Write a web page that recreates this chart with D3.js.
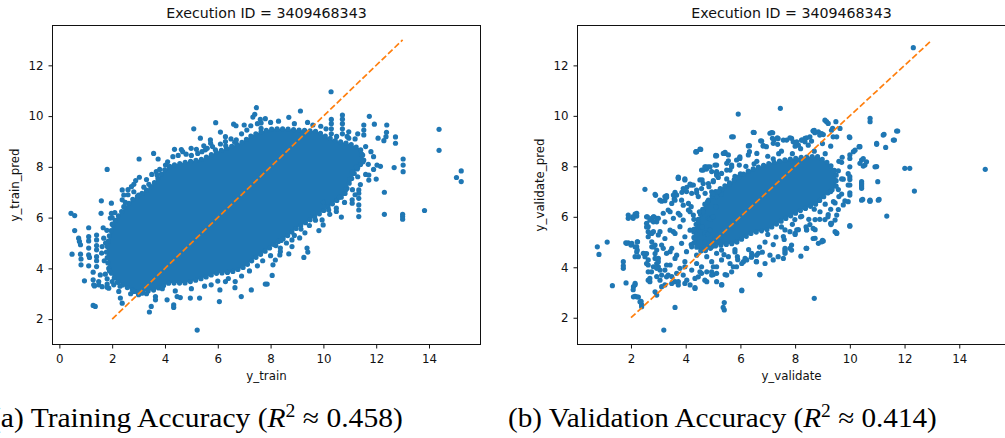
<!DOCTYPE html>
<html>
<head>
<meta charset="utf-8">
<script src="https://cdn.jsdelivr.net/npm/d3@7"></script>
<style>
  body { margin: 0; background: #fff; }
  svg  { display: block; }
  text { font-family: "DejaVu Sans", sans-serif; }
</style>
</head>
<body>
<svg id="chart" width="1005" height="438"></svg>
<script>
// ---- data ----
var titleText   = "Execution ID = 3409468343";
var trainXTicks = [0, 2, 4, 6, 8, 10, 12, 14];
var validXTicks = [2, 4, 6, 8, 10, 12, 14];
var yTicks      = [2, 4, 6, 8, 10, 12];
var trainXLim   = [-0.26, 15.95];
var trainYLim   = [1.0, 13.57];
var validXLim   = [0.045, 15.69];
var validYLim   = [0.94, 13.58];
var refLine     = [[2, 2], [13, 13]];

// saturated part of the training cloud (outline of the solid blue area)
var trainCore = [[1.87,4.0],[1.78,4.66],[1.9,5.32],[2.12,5.9],[2.4,6.3],[2.75,6.7],[3.2,7.0],[3.5,7.25],[3.7,7.5],
  [4.0,7.9],[4.4,8.1],[4.9,8.2],[5.4,8.3],[6.0,8.6],[6.5,8.8],[6.9,8.95],[7.3,9.25],[7.7,9.4],[8.1,9.5],[8.5,9.5],
  [9.1,9.45],[9.75,9.4],[10.1,9.2],[10.4,9.05],[11.0,8.9],[11.4,8.7],[11.55,8.3],[11.2,7.8],[10.95,7.3],[10.8,6.9],
  [10.35,6.55],[9.85,6.15],[9.4,5.85],[9.0,5.6],[8.6,5.25],[8.2,5.0],[7.9,4.75],[7.4,4.4],[7.0,4.05],[6.5,3.85],
  [5.9,3.8],[5.4,3.6],[4.75,3.42],[4.15,3.42],[3.6,3.15],[3.0,3.05],[2.45,3.3],[2.12,3.55]];

var trainPoints = [
  [1.81,7.9],[3.02,8.31],[3.57,8.53],[3.74,8.31],[5.09,9.5],[5.92,9.74],[6.1,9.37],[6.6,9.68],[6.69,9.62],[7.0,9.65],
  [7.25,9.62],[7.46,10.33],[7.33,9.96],[7.4,10.07],[7.61,9.87],[7.64,9.73],[7.64,9.52],[5.34,9.13],[5.72,9.06],[5.73,8.93],
  [6.29,9.19],[6.29,9.0],[6.3,8.83],[6.64,8.97],[6.7,9.06],[4.36,8.69],[4.62,8.68],[4.67,8.6],[4.99,8.73],[5.19,8.69],
  [5.24,8.53],[5.53,8.67],[5.6,8.73],[5.91,8.67],[5.47,8.83],[4.02,8.07],[4.18,8.02],[3.67,7.81],[3.7,7.68],[2.89,7.46],
  [3.03,7.59],[2.82,7.31],[3.39,7.31],[3.8,7.9],[4.1,8.2],[4.3,8.4],[4.5,8.45],[4.8,8.5],[5.0,8.45],[5.4,8.6],
  [5.8,8.8],[6.1,8.9],[6.5,9.1],[6.9,9.3],[7.1,9.45],[7.5,9.7],[7.8,9.9],[3.3,7.5],[3.5,7.7],[2.6,7.1],
  [10.29,10.96],[9.13,10.2],[8.69,9.95],[10.3,9.87],[10.3,9.7],[10.3,9.5],[10.3,9.3],[10.72,10.04],[10.72,9.88],[10.72,9.7],
  [10.72,9.5],[10.72,9.3],[11.74,9.99],[11.93,9.68],[12.4,9.65],[12.39,9.36],[12.37,9.19],[12.73,9.18],[12.73,8.93],[12.29,9.03],
  [12.07,9.13],[14.38,9.48],[14.38,8.65],[13.02,8.31],[13.02,8.07],[13.02,7.81],[12.68,7.97],[12.16,8.02],[12.03,8.07],[11.72,7.68],
  [11.72,7.48],[12.0,7.52],[11.3,7.97],[11.3,7.61],[15.22,7.84],[15.04,7.58],[15.22,7.42],[11.53,9.65],[11.53,9.45],[11.53,9.26],
  [10.96,9.38],[10.96,9.13],[8.3,9.8],[8.0,9.75],[8.9,9.7],[9.4,9.75],[9.6,9.65],[9.9,9.6],[10.1,9.5],[10.5,9.2],
  [10.9,9.2],[11.2,9.1],[11.3,9.3],[11.6,8.8],[11.8,8.6],[11.9,8.4],[11.5,8.2],[11.7,8.1],[11.9,7.9],[11.1,7.8],
  [11.0,7.5],[11.4,7.3],[11.6,7.7],[11.45,8.5],[11.25,8.0],[10.85,7.1],
  [11.34,7.09],[11.34,6.96],[11.34,6.76],[11.34,6.5],[11.34,6.3],[11.34,6.04],[12.31,7.0],[12.31,6.13],[13.0,6.13],[13.0,6.04],
  [13.0,5.94],[13.83,6.28],[11.09,6.7],[11.09,6.57],[10.68,6.02],[10.49,6.37],[10.49,6.24],[10.24,6.13],[9.83,5.49],[9.47,5.69],
  [9.95,5.91],[9.99,5.71],[9.38,4.8],[9.41,4.64],[9.26,4.43],[8.69,4.57],[8.37,4.8],[8.37,4.66],[8.35,4.53],[8.18,4.33],
  [8.09,4.14],[8.06,3.72],[8.81,5.12],[8.81,4.86],[7.87,3.38],[10.8,6.6],[10.6,6.8],[10.2,6.3],[9.7,5.9],[9.3,5.4],
  [9.1,5.2],[8.9,5.3],[8.6,5.0],[8.4,5.1],[8.2,4.9],[9.6,6.2],[10.0,6.6],[11.1,7.1],[11.2,6.9],[9.15,5.55],
  [0.44,6.17],[0.58,6.08],[0.58,5.49],[0.73,5.19],[0.76,5.06],[0.8,4.93],[0.48,4.56],[0.8,4.56],[0.82,4.37],[0.82,4.14],
  [0.95,3.51],[1.11,5.6],[1.11,5.25],[1.11,5.08],[1.11,4.8],[1.11,4.53],[1.14,4.43],[1.11,4.1],[1.28,3.85],[1.28,3.55],
  [1.3,3.35],[1.33,3.31],[1.28,2.54],[1.36,2.5],[1.41,5.31],[1.41,5.12],[1.41,4.9],[1.41,4.73],[1.41,4.46],[1.41,4.3],
  [1.41,4.07],[1.59,6.66],[1.58,6.17],[1.66,5.6],[1.68,5.19],[1.62,4.86],[1.55,3.74],[1.49,3.48],[1.49,3.35],[1.62,3.28],
  [1.74,3.77],[1.81,3.59],[1.81,3.38],[1.87,3.22],[1.97,6.57],[1.97,6.17],[1.93,5.98],[2.0,5.74],[2.38,7.09],[2.44,6.89],
  [2.38,6.7],[2.44,6.43],[2.73,7.22],[2.82,7.02],[3.0,6.89],[2.0,3.48],[2.06,3.35],[2.25,3.09],[2.31,2.83],[2.38,2.63],
  [1.81,3.26],[2.82,3.09],[3.0,2.96],[3.13,3.02],[3.41,2.28],[3.48,2.5],[3.64,2.89],[3.64,2.76],[4.08,2.76],[4.33,2.56],
  [4.33,2.46],[4.46,2.89],[4.58,2.85],[4.39,3.11],[4.96,2.83],[5.31,2.83],[5.22,1.57],[5.75,3.35],[6.06,2.69],[6.08,3.15],
  [6.29,3.48],[6.66,3.48],[6.65,3.24],[6.89,2.89],[7.27,3.15],[7.8,3.38],[5.0,3.2],[5.5,3.3],[6.0,3.5],[6.4,3.6],
  [6.9,3.7],[7.2,3.9],[7.5,4.1],[7.7,4.3],[8.0,4.5],[3.3,3.0],[3.9,3.2],[2.7,3.0],[2.3,3.3],[1.9,3.9],
  [1.7,4.3],[1.6,4.6],[1.8,5.5],[2.1,6.2],[2.5,6.6],[2.6,6.9],[3.2,7.2],[1.75,5.0],[2.0,6.0],[2.2,3.45]
];

// densest part of the validation cloud
var validCore = [[4.3,5.5],[4.7,6.5],[5.1,7.0],[5.75,7.45],[6.35,7.85],[7.0,8.1],[7.6,8.25],[8.2,8.35],[8.8,8.4],
  [9.25,8.1],[9.5,7.75],[9.5,7.2],[9.2,6.95],[8.75,6.5],[8.2,6.25],[7.6,5.9],[7.0,5.5],[6.4,5.35],[5.8,4.95],
  [5.1,4.85],[4.6,4.6],[4.3,4.9]];

var validPoints = [
  [0.77,4.81],[0.83,4.51],[1.13,5.0],[1.32,3.27],[1.72,4.22],[1.72,4.06],[1.72,3.96],[1.82,3.38],[1.81,4.97],[1.9,4.97],
  [2.0,4.88],[1.9,6.07],[1.9,5.94],[2.15,6.11],[2.21,6.03],[2.08,5.94],[2.15,3.31],[2.08,3.11],[2.15,2.85],[2.27,2.82],
  [2.37,2.65],[2.39,2.52],[2.24,5.01],[2.21,4.81],[2.21,4.61],[2.27,4.42],[2.51,7.09],[2.6,6.0],[2.57,5.74],[2.63,5.61],
  [2.63,5.41],[2.49,4.54],[2.51,4.42],[2.57,4.54],[2.63,4.29],[2.63,4.09],[2.63,3.82],[2.63,3.49],[2.82,6.0],[3.0,5.94],
  [2.9,6.85],[2.76,5.34],[2.76,5.01],[2.82,4.81],[2.88,4.54],[2.88,4.35],[2.94,4.15],[3.0,4.02],[3.06,3.89],[3.12,3.69],
  [3.06,3.49],[2.94,2.9],[3.2,1.51],[3.61,2.41],[3.3,6.84],[3.24,6.64],[3.58,6.71],[3.73,7.57],[3.97,7.5],[4.04,7.17],
  [4.16,7.3],[3.86,6.97],[3.61,6.97],[4.37,8.57],[4.55,8.67],[5.92,10.07],[7.46,10.3],[5.74,9.17],[6.5,9.34],[7.08,9.31],
  [7.14,9.34],[7.38,9.1],[7.57,9.04],[6.74,9.01],[6.83,8.81],[6.95,8.78],[7.17,9.11],[7.36,8.87],[6.29,8.81],[6.33,8.58],
  [6.6,8.51],[5.44,8.55],[5.56,8.22],[5.68,8.05],[5.62,7.85],[5.96,8.31],[5.96,8.05],[5.1,8.43],[5.07,8.05],[5.13,7.79],
  [4.95,7.79],[4.76,7.89],[4.64,7.85],[4.6,7.46],[4.64,7.32],[4.85,7.19],[5.01,7.43],[5.37,2.41],[5.41,2.6],[6.05,3.07],
  [6.71,3.7],[6.9,4.15],[6.58,4.22],[5.32,3.31],[5.01,3.71],[5.44,3.71],[5.68,3.82],[5.86,4.02],[6.05,4.15],[6.17,4.35],
  [6.41,4.55],[6.65,4.55],[7.63,4.68],[7.57,5.22],[7.63,5.48],[8.0,5.34],[3.97,4.02],[4.04,3.49],[4.34,3.16],[4.7,3.49],
  [4.95,3.82],[4.46,3.62],[3.61,3.43],[3.67,3.76],[3.49,3.36],[3.3,3.62],
  [3.73,7.52],[3.97,7.46],[4.22,7.26],[4.40,7.06],[4.58,7.12],[4.83,7.32],[5.01,7.39],[5.19,7.56],[5.31,7.72],[5.5,7.85],
  [5.68,7.98],[5.86,8.25],[5.98,8.38],[3.06,6.66],[3.24,6.8],[3.49,6.53],[3.61,6.86],[3.85,6.66],[4.10,6.53],[4.22,6.93],
  [4.46,6.8],[4.71,6.93],[4.95,6.99],[5.13,6.8],[5.31,7.06],[2.57,6.0],[2.76,5.94],[2.94,5.8],[3.18,6.14],[3.36,6.27],
  [3.55,5.94],[3.73,6.14],[3.91,5.87],[4.10,6.27],[4.28,6.07],[4.46,5.8],[4.64,6.2],[4.83,5.94],[2.63,5.21],[2.82,5.41],
  [3.0,5.28],[3.24,5.14],[3.43,5.47],[3.61,5.34],[3.79,5.61],[3.97,5.21],[4.16,5.47],[4.34,5.14],[4.52,5.61],[4.71,5.34],
  [4.89,5.47],[5.07,5.14],[2.45,4.55],[2.76,4.81],[2.94,4.68],[3.12,4.88],[3.30,4.55],[3.49,4.75],[3.67,4.48],[3.85,4.95],
  [4.03,4.62],[4.22,4.81],[4.40,4.48],[4.58,4.68],[4.77,4.42],[4.95,4.81],[5.13,4.55],[5.31,4.68],[2.57,4.15],[2.82,4.02],
  [3.0,4.22],[3.24,3.89],[3.43,4.09],[3.61,4.35],[3.79,3.96],[3.97,4.22],[4.22,3.89],[4.40,4.15],[4.58,4.02],[4.77,3.82],
  [4.95,4.22],[5.13,4.02],[5.31,4.29],[5.56,4.42],[2.69,3.43],[2.94,3.63],[3.24,3.3],[3.49,3.63],[3.73,3.43],[3.91,3.69],
  [4.16,3.3],[4.34,3.56],[4.58,3.76],[4.77,3.43],[5.13,3.43],
  [12.32,12.7],[10.74,9.9],[10.74,9.77],[11.75,9.4],[11.25,9.27],[11.63,9.04],[10.98,8.87],[11.31,8.75],[10.0,9.14],[10.35,8.78],
  [10.19,8.64],[10.92,7.98],[12.01,7.92],[12.19,7.92],[14.95,7.88],[12.36,7.02],[11.02,7.39],[10.43,7.39],[10.43,7.26],[10.43,7.13],
  [10.47,6.69],[10.73,6.63],[11.07,6.69],[11.35,6.03],[10.0,5.63],[10.43,8.25],[10.49,8.01],[10.61,8.18],[10.0,7.98],[9.94,7.71],
  [10.0,7.48],[9.94,7.26],[10.0,6.95],[9.72,8.36],[9.7,8.16],[9.58,7.82],[9.76,7.49],[9.7,6.9],[9.82,6.63],[9.52,5.36],
  [9.3,5.74],[9.0,5.07],[8.85,4.95],[8.73,5.15],[8.42,4.75],[8.21,4.44],[8.73,5.49],[9.15,9.77],[9.09,9.83],[8.7,9.43],
  [8.85,9.37],[8.97,9.3],[9.33,9.43],[9.52,9.17],[9.39,9.17],[8.54,9.17],[8.36,8.97],[8.24,9.04],[8.48,8.84],[9.58,7.08],
  [9.46,6.55],[9.58,6.29],[9.21,6.09],[9.31,5.69],[9.09,5.89],[8.91,6.2],[8.73,5.89],[8.54,5.69],[8.42,5.49],[8.12,5.49],
  [8.24,6.02],[7.99,5.89],
  [11.22,9.24],[11.71,9.4],[11.59,9.04],[10.74,6.66],[11.04,6.66],[10.43,7.19],[10.37,8.12],[10.98,7.99],[9.94,6.6],[10.34,8.78],
  [10.0,8.45],[9.98,9.17],[9.64,9.5],[9.49,9.77],[9.21,9.7],[8.7,2.77],[9.52,5.34],[9.46,5.87],[8.97,5.01],[8.4,4.75],
  [7.87,4.88],[7.87,4.68],[7.63,4.75],[7.63,4.55],[7.38,4.42],[7.2,4.29],[6.59,4.22],[6.41,4.42],[6.23,4.29],[5.89,4.42],
  [5.74,4.02],[5.62,4.15],[5.8,4.61],[5.5,3.69],[5.41,2.31],[5.13,3.76],[5.01,4.02],[2.33,2.63],[2.39,2.44],[2.21,2.83],
  [2.09,2.83],[2.09,3.23],[2.15,3.36],[1.84,4.95],[2.03,4.95],[2.15,4.81],[2.23,5.01],[2.23,4.68],[2.15,4.42],[2.06,6.0],
  [2.21,6.14],[2.57,5.6],[2.69,5.87],[2.84,6.0],[3.12,6.62],[3.3,6.77],[3.55,6.86],[3.61,6.66],[4.03,7.0],[4.28,7.26],
  [4.4,6.95],[4.4,8.58],[4.52,8.68],[4.58,7.85],[4.74,7.98],[4.82,7.98],[5.13,8.05],[5.1,8.41],[5.44,8.51],[6.47,9.35],
  [6.78,9.0],[7.18,9.33],[7.23,9.04],[7.69,9.04],[7.87,9.11],[7.93,8.97],[8.12,8.84],[8.24,9.04],[8.36,9.11],[8.66,9.41],
  [8.72,9.33],[8.9,9.24],
  [6.4,4.4],[6.8,4.6],[7.2,4.9],[7.6,5.1],[8.0,5.3],[8.4,5.6],[8.9,5.9],[9.3,6.3],[9.6,6.8],[9.7,7.5],
  [9.6,8.2],[9.3,8.8],[9.0,8.9],[8.6,9.0],[8.0,8.8],[7.5,8.6],[7.0,8.4],[6.5,8.1],[6.0,7.7],[5.6,7.3],
  [5.3,6.9],[5.1,6.4],[4.9,5.9],[4.8,5.3],[5.0,4.9],[5.4,4.5],[5.9,4.3],[5.0,6.0],[5.2,7.0],[5.5,7.5],
  [5.8,7.6],[6.2,8.0],[6.6,8.2],[7.2,8.3],[7.4,8.5],[7.9,8.5],[8.2,8.7],[8.7,8.6],[9.1,8.5],[9.4,7.8],
  [9.3,7.0],[9.4,6.6],[9.1,6.5],[8.7,6.3],[8.2,6.0],[7.9,5.7],[7.5,5.6],[7.3,5.2],[6.9,5.0],[6.3,4.7],
  [5.8,4.7],[5.3,5.2],[4.7,5.0],[4.6,5.6],[4.5,6.2],[4.8,6.6],[5.0,6.9],[4.3,5.9],[4.2,6.4],[4.4,5.3],
  [4.2,4.9],[6.7,4.8],[7.0,5.3],[8.5,5.9],[9.2,6.0],
  [5.68,9.17],[6.49,9.34],[7.35,9.13],[4.38,8.58],[5.375,8.51],[5.13,8.42],[6.33,8.82],[6.84,8.82],[7.2,8.91],[7.81,9.13],
  [8.06,8.97],[8.42,9.13],[8.66,9.4],[9.03,9.26],[9.37,9.5],[10.37,8.78],[10.13,8.58],[10.0,8.31],[10.49,8.31],[10.55,8.05],
  [10.98,8.91],[10.0,7.59],[10.0,7.26],[10.0,6.86],[10.43,7.32],[10.43,6.66],[10.74,6.62],[9.76,6.47],[9.52,6.07],[9.33,5.74],
  [10.0,5.65],[9.46,5.41],[8.66,5.54],[8.42,5.48],[8.06,5.48],[8.66,5.14],[9.03,5.04],[8.42,4.75],[7.81,4.75],[7.63,4.62],
  [7.57,4.35],[7.81,5.41],[6.71,3.72],[7.08,4.48],[6.59,4.48],[6.11,4.22],[6.05,3.1],[5.31,3.3],[4.95,3.69],[4.52,3.82],
  [4.34,3.19],[3.97,3.36],[3.73,3.3],[3.36,3.69],[3.12,3.23],[2.88,3.03],[2.69,3.56],
  [2.88,6.89],[3.3,6.8],[3.67,6.86],[3.91,7.12],[4.16,7.26],[4.52,7.46],[4.7,7.98],[4.89,7.98],[5.13,7.72],[5.5,8.12],
  [5.98,8.31],[6.29,8.45],[5.56,8.45],[5.13,7.65],[3.73,7.55],[2.94,5.94],[2.82,5.8],[3.06,5.41],[2.69,5.34],[2.88,4.88],
  [3.18,4.75],[3.0,4.35],[3.43,4.62],[3.3,4.09],[2.94,3.96],[2.75,3.82],[3.55,5.41],[3.24,5.8],[3.91,6.46],[3.79,6.07],
  [4.16,6.2],[3.43,6.2]
];

var panels = [
  { left: 52.5,  xLim: trainXLim, yLim: trainYLim, xTicks: trainXTicks, core: trainCore, points: trainPoints,
    xLabel: "y_train",    yLabel: "y_train_pred",    yLabelX: 19 },
  { left: 577.5, xLim: validXLim, yLim: validYLim, xTicks: validXTicks, core: validCore, points: validPoints,
    xLabel: "y_validate", yLabel: "y_validate_pred", yLabelX: 544 }
];

var captions = [
  { label: "(a) Training Accuracy (",   value: " \u2248 0.458)", left: -9,  right: 403 },
  { label: "(b) Validation Accuracy (", value: " \u2248 0.414)", left: 508, right: 937 }
];

var BLUE = "#1f77b4", ORANGE = "#ff7f0e";
var W = 428, TOP = 25.5, BOTTOM = 344.5;

var svg = d3.select("#chart");

panels.forEach(function (p)
{
  var x = d3.scaleLinear().domain(p.xLim).range([p.left, p.left + W]);
  var y = d3.scaleLinear().domain(p.yLim).range([BOTTOM, TOP]);
  var line = d3.line().x(function (d) { return x(d[0]); }).y(function (d) { return y(d[1]); });
  var g = svg.append("g");

  // dense core of the cloud, where the dots merge; a beaded edge keeps it dotty
  g.append("path")
    .datum(p.core)
    .attr("d", line.curve(d3.curveLinearClosed))
    .attr("fill", BLUE)
    .attr("stroke", BLUE)
    .attr("stroke-width", 5.2)
    .attr("stroke-linecap", "round")
    .attr("stroke-dasharray", "0,5.5");

  g.selectAll("circle.pt").data(p.points).enter().append("circle")
    .attr("class", "pt")
    .attr("cx", function (d) { return x(d[0]); })
    .attr("cy", function (d) { return y(d[1]); })
    .attr("r", 2.6)
    .attr("fill", BLUE);

  g.append("path")
    .datum(refLine)
    .attr("d", line.curve(d3.curveLinear))
    .attr("fill", "none")
    .attr("stroke", ORANGE)
    .attr("stroke-width", 1.7)
    .attr("stroke-dasharray", "6.2,2.7");

  // frame
  g.append("rect")
    .attr("x", p.left).attr("y", TOP).attr("width", W).attr("height", BOTTOM - TOP)
    .attr("fill", "none").attr("stroke", "#111").attr("stroke-width", 1);

  var xAxis = g.append("g").attr("transform", "translate(0," + BOTTOM + ")")
    .call(d3.axisBottom(x).tickValues(p.xTicks).tickSize(4).tickSizeOuter(0).tickPadding(6).tickFormat(d3.format("d")));
  var yAxis = g.append("g").attr("transform", "translate(" + p.left + ",0)")
    .call(d3.axisLeft(y).tickValues(yTicks).tickSize(4).tickSizeOuter(0).tickPadding(5).tickFormat(d3.format("d")));

  [xAxis, yAxis].forEach(function (a)
  {
    a.select(".domain").remove();
    a.selectAll("line").attr("stroke", "#111");
    a.selectAll("text").attr("fill", "#111").style("font-size", "11.8px").style("font-family", "DejaVu Sans");
  });

  var cx = p.left + W / 2;
  g.append("text").attr("x", cx).attr("y", 17.5).attr("text-anchor", "middle")
    .style("font-size", "14.2px").attr("fill", "#111").text(titleText);
  g.append("text").attr("x", cx).attr("y", 380).attr("text-anchor", "middle")
    .style("font-size", "11.8px").attr("fill", "#111").text(p.xLabel);
  g.append("text").attr("transform", "translate(" + p.yLabelX + "," + ((TOP + BOTTOM) / 2) + ") rotate(-90)")
    .attr("text-anchor", "middle").style("font-size", "11.8px").attr("fill", "#111").text(p.yLabel);
});

// captions in a LaTeX-like serif, stretched to the width they take in the picture
captions.forEach(function (c)
{
  var t = svg.append("text").attr("y", 427)
    .style("font-family", "'Liberation Serif', 'DejaVu Serif', serif")
    .style("font-size", "27px").attr("fill", "#000");
  t.append("tspan").text(c.label);
  t.append("tspan").style("font-style", "italic").text("R");
  t.append("tspan").attr("dy", -10).style("font-size", "18px").text("2");
  t.append("tspan").attr("dy", 10).text(c.value);

  var sx = (c.right - c.left) / t.node().getComputedTextLength();
  t.attr("transform", "translate(" + c.left + ",0) scale(" + sx + ",1)");
});
</script>
</body>
</html>
